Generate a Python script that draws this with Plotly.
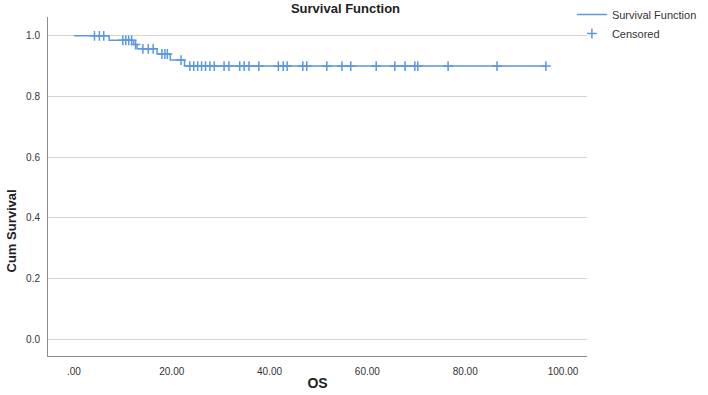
import plotly.graph_objects as go

# Data
event_times = [7.2, 12.2, 12.9, 17.0, 19.7, 22.6]
surv_after = [0.985, 0.971, 0.957, 0.940, 0.920, 0.900]
censor_times = [4.2, 5.2, 6.1, 10.0, 10.6, 11.2, 11.8, 12.6, 14.1, 15.2, 16.2,
                18.0, 18.6, 19.1, 21.9, 23.7, 24.5, 25.3, 26.1, 26.9, 27.8, 28.7,
                30.7, 31.7, 33.9, 34.8, 35.8, 37.8, 41.8, 42.8, 43.6, 46.8, 47.6,
                51.7, 54.8, 56.6, 61.8, 65.6, 67.7, 69.7, 70.3, 76.5, 86.5, 96.5]
x_tickvals = [0, 20, 40, 60, 80, 100]
x_ticktext = [".00", "20.00", "40.00", "60.00", "80.00", "100.00"]
y_tickvals = [0.0, 0.2, 0.4, 0.6, 0.8, 1.0]
y_ticktext = ["0.0", "0.2", "0.4", "0.6", "0.8", "1.0"]

def surv_at(t):
    s = 1.0
    for et, sv in zip(event_times, surv_after):
        if et <= t:
            s = sv
    return s

curve_x = [0.0] + event_times + [max(censor_times)]
curve_y = [1.0] + surv_after + [surv_after[-1]]
censor_y = [surv_at(t) for t in censor_times]

blue = "#5b97e4"
FONT = "Liberation Sans, Arial, sans-serif"

fig = go.Figure()
fig.add_trace(go.Scatter(x=curve_x, y=curve_y, mode="lines", line_shape="hv",
                         line=dict(color=blue, width=1.5), name="Survival Function"))
fig.add_trace(go.Scatter(x=censor_times, y=censor_y, mode="markers", name="Censored",
                         marker=dict(symbol="cross-thin-open", size=7,
                                     line=dict(color=blue, width=1.5), color=blue)))

fig.update_layout(
    width=708, height=395,
    margin=dict(l=48, r=121, t=17, b=39, autoexpand=False),
    paper_bgcolor="white", plot_bgcolor="white",
    font=dict(family=FONT, size=10, color="#333"),
    title=dict(text="<b>Survival Function</b>", x=0.488, xanchor="center",
               y=0.99, yanchor="top", font=dict(size=13, color="#222")),
    legend=dict(x=0.972, xanchor="left", y=1.018, yref="container", yanchor="top",
                font=dict(size=11, color="#333"), bgcolor="rgba(0,0,0,0)",
                tracegroupgap=0, itemwidth=30),
    showlegend=True,
)
fig.update_xaxes(range=[-5.3, 104.9], tickvals=x_tickvals, ticktext=x_ticktext,
                 showgrid=False, zeroline=False, showline=True, linecolor="#8c8c8c",
                 linewidth=1, ticks="", ticklabelstandoff=6, automargin=False,
                 title=dict(text="<b>OS</b>", font=dict(size=14, color="#222"), standoff=2))
fig.update_yaxes(range=[-0.056, 1.062], tickvals=y_tickvals, ticktext=y_ticktext,
                 showgrid=True, gridcolor="#d4d4d4", gridwidth=1.2, zeroline=False,
                 showline=True, linecolor="#8c8c8c", linewidth=1, ticks="",
                 ticklabelstandoff=5, automargin=False, title=None)
fig.add_annotation(text="<b>Cum Survival</b>", xref="paper", yref="paper",
                   x=-0.067, y=0.37, textangle=-90, showarrow=False,
                   font=dict(size=13, color="#222"), xanchor="center", yanchor="middle")

fig.write_html("out.html")
